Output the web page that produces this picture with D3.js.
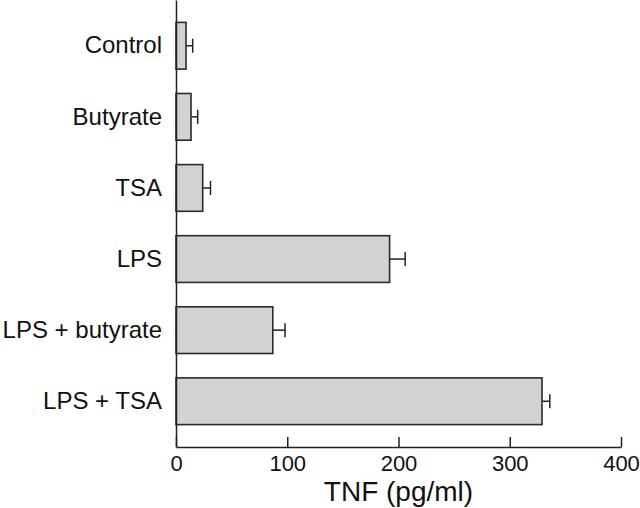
<!DOCTYPE html>
<html>
<head>
<meta charset="utf-8">
<script src="https://cdn.jsdelivr.net/npm/d3@7"></script>
<style>
  body { margin: 0; background: #fff; }
  text { font-family: "Liberation Sans", Arial, sans-serif; fill: #111; }
</style>
</head>
<body>
<script>
// data
const categories = ["Control", "Butyrate", "TSA", "LPS", "LPS + butyrate", "LPS + TSA"];
const tnf_values = [9, 13.5, 24, 192, 87, 329];
const tnf_errors = [6, 6, 7, 14, 11, 7];
const x_ticks = [0, 100, 200, 300, 400];
const x_title = "TNF (pg/ml)";

const total_width = 640, total_height = 508;
const margin = { top: 0, left: 176 };
const graph_width = 445, graph_height = 447;

const svg = d3.select("body").append("svg")
    .attr("width", total_width)
    .attr("height", total_height);

const g = svg.append("g")
    .attr("transform", "translate(" + margin.left + "," + margin.top + ")");

const x = d3.scaleLinear().domain([0, 400]).range([0, graph_width]);
const y = d3.scaleBand()
    .domain(categories)
    .range([0, graph_height])
    .paddingInner(0.343)
    .paddingOuter(0.315);

const data = categories.map((c, i) => ({ name: c, value: tnf_values[i], err: tnf_errors[i] }));

// error bars (drawn first, bar covers the left part)
const eb = g.selectAll(".err").data(data).enter().append("g").attr("class", "err");
eb.append("line")
    .attr("x1", d => x(d.value))
    .attr("x2", d => x(d.value + d.err))
    .attr("y1", d => y(d.name) + y.bandwidth() / 2)
    .attr("y2", d => y(d.name) + y.bandwidth() / 2)
    .attr("stroke", "#222").attr("stroke-width", 1.5);
eb.append("line")
    .attr("x1", d => x(d.value + d.err))
    .attr("x2", d => x(d.value + d.err))
    .attr("y1", d => y(d.name) + y.bandwidth() / 2 - 7)
    .attr("y2", d => y(d.name) + y.bandwidth() / 2 + 7)
    .attr("stroke", "#222").attr("stroke-width", 1.5);

// bars
g.selectAll(".bar").data(data).enter().append("rect")
    .attr("class", "bar")
    .attr("x", 0)
    .attr("y", d => y(d.name))
    .attr("width", d => x(d.value))
    .attr("height", y.bandwidth())
    .attr("fill", "#d3d3d3")
    .attr("stroke", "#2a2a2a")
    .attr("stroke-width", 1.6);

// x axis, ticks pointing up
const xAxis = g.append("g")
    .attr("transform", "translate(0," + graph_height + ")")
    .call(d3.axisBottom(x).tickValues(x_ticks).tickSizeInner(-10).tickSizeOuter(0).tickPadding(8));
xAxis.selectAll("text").style("font-size", "22px").attr("fill", "#111");

// y axis, no ticks
const yAxis = g.append("g")
    .call(d3.axisLeft(y).tickSize(0).tickPadding(14));
yAxis.selectAll("text").style("font-size", "24px").attr("fill", "#111");

g.selectAll(".domain, .tick line").attr("stroke", "#222").attr("stroke-width", 1.5);

svg.append("text")
    .attr("x", margin.left + graph_width / 2)
    .attr("y", 501)
    .attr("text-anchor", "middle")
    .style("font-size", "28px")
    .text(x_title);
</script>
</body>
</html>
